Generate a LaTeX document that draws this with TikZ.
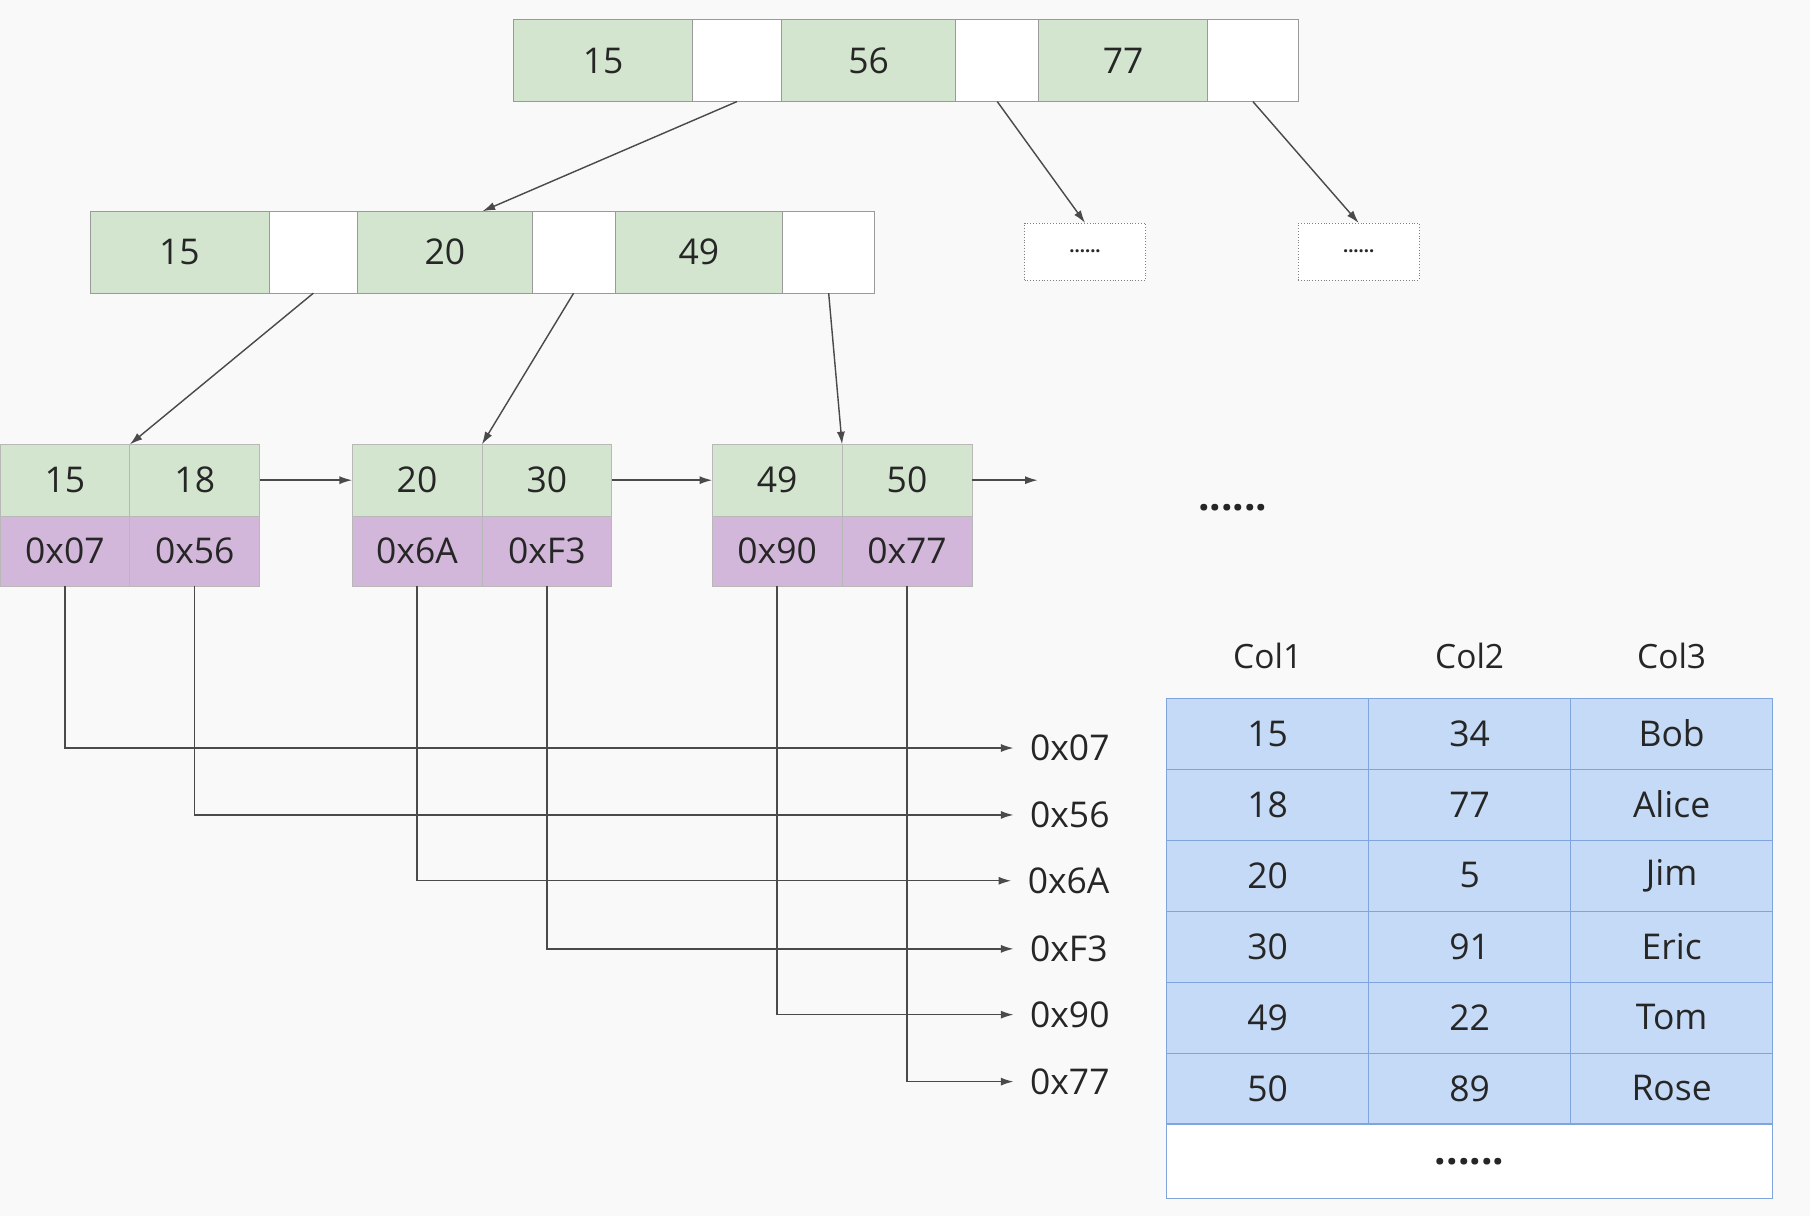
\documentclass[tikz,border=0pt]{standalone}
\usepackage{fontspec}
\setmainfont{Open Sans}
\usetikzlibrary{positioning,calc,arrows.meta,matrix}

\definecolor{keygreen}{HTML}{D3E5CE}
\definecolor{ptrpurple}{HTML}{D2B7DA}
\definecolor{rowblue}{HTML}{C4DAF6}
\definecolor{rowline}{HTML}{7FA5DC}
\definecolor{cellline}{HTML}{9A9A9A}
\definecolor{inkgrey}{HTML}{4A4A4A}
\definecolor{paper}{HTML}{F9F9F9}

\begin{document}
\begin{tikzpicture}[
    x=0.02cm, y=-0.02cm,
    every node/.style={font=\fontsize{17.5}{20}\selectfont, text=black!85},
    key/.style={rectangle, draw=cellline, fill=keygreen, minimum width=3.05cm, minimum height=1.42cm, inner sep=0pt, outer sep=0pt},
    ptr/.style={rectangle, draw=cellline, fill=white, minimum width=1.5cm, minimum height=1.42cm, inner sep=0pt, outer sep=0pt},
    leafkey/.style={rectangle, draw=cellline!70, fill=keygreen, minimum width=2.25cm, minimum height=1.24cm, inner sep=0pt, outer sep=0pt},
    leafptr/.style={rectangle, draw=cellline!70, fill=ptrpurple, minimum width=2.25cm, minimum height=1.22cm, inner sep=0pt, outer sep=0pt},
    more/.style={rectangle, draw=gray, densely dotted, fill=white, minimum width=2.1cm, minimum height=0.98cm, font=\fontsize{9}{10}\selectfont\bfseries},
    addr/.style={anchor=west, inner xsep=0.28cm},
    cell/.style={rectangle, draw=rowline, fill=rowblue, minimum width=3.5cm, minimum height=1.23cm, inner sep=0pt, anchor=center},
    head/.style={font=\fontsize{16.5}{19}\selectfont},
    link/.style={draw=inkgrey, line width=0.7pt, -{Latex[length=0.22cm,width=0.14cm]}}
]
    \useasboundingbox (0,0) rectangle (1568,1053);
    \fill[paper] (0,0) rectangle (1568,1053);

    % root
    \node[key, minimum width=3.1cm, anchor=north west] (t15) at (445,17) {15};
    \node[ptr, minimum width=1.54cm, right=0pt of t15] (tp1) {};
    \node[key, minimum width=3.02cm, right=0pt of tp1] (t56) {56};
    \node[ptr, minimum width=1.44cm, right=0pt of t56] (tp2) {};
    \node[key, minimum width=2.92cm, right=0pt of tp2] (t77) {77};
    \node[ptr, minimum width=1.58cm, right=0pt of t77] (tp3) {};

    % second level
    \node[key, minimum width=3.1cm, anchor=north west] (i15) at (78,183) {15};
    \node[ptr, minimum width=1.54cm, right=0pt of i15] (ip1) {};
    \node[key, minimum width=3.02cm, right=0pt of ip1] (i20) {20};
    \node[ptr, minimum width=1.44cm, right=0pt of i20] (ip2) {};
    \node[key, minimum width=2.9cm, right=0pt of ip2] (i49) {49};
    \node[ptr, minimum width=1.6cm, right=0pt of i49] (ip3) {};

    \node[more] (more1) at (940,218) {......};
    \node[more] (more2) at (1177,218) {......};

    % leaves
    \node[leafkey, anchor=north west] (k15) at (0,385) {15};
    \node[leafkey, right=0pt of k15] (k18) {18};
    \node[leafptr, below=0pt of k15] (p07) {0x07};
    \node[leafptr, below=0pt of k18] (p56) {0x56};

    \node[leafkey, anchor=north west] (k20) at (305,385) {20};
    \node[leafkey, right=0pt of k20] (k30) {30};
    \node[leafptr, below=0pt of k20] (p6A) {0x6A};
    \node[leafptr, below=0pt of k30] (pF3) {0xF3};

    \node[leafkey, anchor=north west] (k49) at (617,385) {49};
    \node[leafkey, right=0pt of k49] (k50) {50};
    \node[leafptr, below=0pt of k49] (p90) {0x90};
    \node[leafptr, below=0pt of k50] (p77) {0x77};

    \coordinate[right=1.14cm of k50.east] (nextleaf);
    \node[font=\fontsize{20}{20}\selectfont\bfseries] (leafdots) at (1068,440) {......};

    % row addresses
    \node[addr] (a07) at (878,648) {0x07};
    \node[addr] (a56) at (878,706) {0x56};
    \node[addr] (a6A) at (876,763) {0x6A};
    \node[addr] (aF3) at (878,822) {0xF3};
    \node[addr] (a90) at (878,879) {0x90};
    \node[addr] (a77) at (878,937) {0x77};

    % table
    \matrix (tbl) [matrix of nodes, nodes={cell}, column sep=-\pgflinewidth, row sep=-\pgflinewidth, inner sep=0pt, anchor=north west] at (1010,604) {
        15 & 34 & Bob \\
        18 & 77 & Alice \\
        20 & 5 & Jim \\
        30 & 91 & Eric \\
        49 & 22 & Tom \\
        50 & 89 & Rose \\
    };
    \node[cell, fill=white, minimum width=10.5cm, minimum height=1.28cm, anchor=north west, font=\fontsize{20}{20}\selectfont\bfseries] (tblmore) at (tbl-6-1.south west) {......};
    \node[head] (col1) at ([yshift=0.72cm]tbl-1-1.north) {Col1};
    \node[head] (col2) at ([yshift=0.72cm]tbl-1-2.north) {Col2};
    \node[head] (col3) at ([yshift=0.72cm]tbl-1-3.north) {Col3};

    \draw[link] (tp1.south) -- ($(i15.north west)!0.5!(ip3.north east)$);
    \draw[link] (tp2.south) -- (more1.north);
    \draw[link] (tp3.south) -- (more2.north);

    \draw[link] (ip1.south) -- (k15.north east);
    \draw[link] (ip2.south) -- (k20.north east);
    \draw[link] (ip3.south) -- (k49.north east);

    \draw[link] (k18.east) -- (k20.west);
    \draw[link] (k30.east) -- (k49.west);
    \draw[link] (k50.east) -- (nextleaf);

    \draw[link] (p07.south) |- (a07.west);
    \draw[link] (p56.south) |- (a56.west);
    \draw[link] (p6A.south) |- (a6A.west);
    \draw[link] (pF3.south) |- (aF3.west);
    \draw[link] (p90.south) |- (a90.west);
    \draw[link] (p77.south) |- (a77.west);
\end{tikzpicture}
\end{document}
